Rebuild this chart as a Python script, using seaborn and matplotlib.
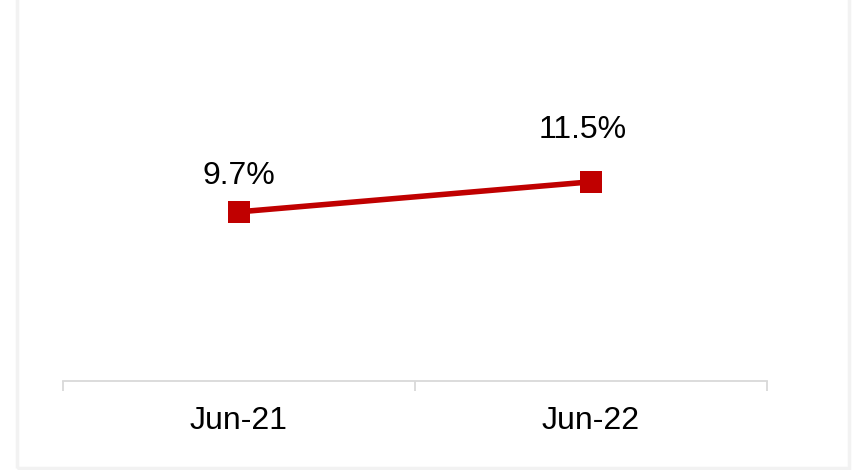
import matplotlib.pyplot as plt
import matplotlib.patches as patches
import pandas as pd
import seaborn as sns

periods = ['Jun-21', 'Jun-22']
values = [9.7, 11.5]
labels = ['9.7%', '11.5%']

sns.set_theme(style='white')
plt.rcParams['font.family'] = ['Liberation Sans', 'DejaVu Sans']

df = pd.DataFrame({'x': range(len(periods)), 'value': values})

fig = plt.figure(figsize=(8.54, 4.70), dpi=100)
ax = fig.add_axes([63 / 854, 1 - 381 / 470, (767 - 63) / 854, (381 - 20) / 470])

sns.lineplot(data=df, x='x', y='value', ax=ax, color='#C00000', lw=4,
             marker='s', markersize=15.5, markeredgewidth=0)

# label offsets (points) as placed in the original
offsets = [(0, 26), (-6, 37)]
for i, (v, lab) in enumerate(zip(values, labels)):
    ax.annotate(lab, (i, v), xytext=offsets[i], textcoords='offset points',
                ha='center', va='center', fontsize=23, color='black')

ax.set_xlim(-0.5, 1.5)
ax.set_ylim(-0.44, 21.2)
ax.set_xticks(range(len(periods)))
ax.set_xticklabels(periods, fontsize=23)
ax.set_xticks([-0.5, 0.5, 1.5], minor=True)
ax.tick_params(axis='x', which='major', length=0, pad=18, colors='black')
ax.tick_params(axis='x', which='minor', length=7, width=1.3, color='#D9D9D9', direction='out', bottom=True)
ax.set_yticks([])
ax.set_xlabel('')
ax.set_ylabel('')
for s in ['left', 'top', 'right']:
    ax.spines[s].set_visible(False)
ax.spines['bottom'].set_color('#D9D9D9')
ax.spines['bottom'].set_linewidth(1.3)

# outer light frame
frame = patches.Rectangle((17 / 854, 2 / 470), (849 - 17) / 854, 1 - 2 / 470 + 0.01,
                          transform=fig.transFigure, fill=False,
                          edgecolor='#F2F2F2', lw=2.5, zorder=-1)
fig.patches.append(frame)

fig.savefig('out.png', dpi=100, facecolor='white')
